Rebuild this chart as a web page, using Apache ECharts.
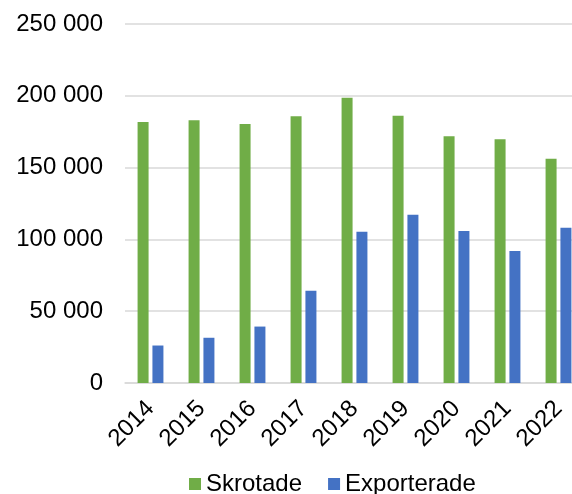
<!DOCTYPE html>
<html>
<head>
<meta charset="utf-8">
<script src="https://cdn.jsdelivr.net/npm/echarts@6/dist/echarts.min.js"></script>
<style>
	html, body { margin: 0; padding: 0; background: #fff; }
	#chart { width: 572px; height: 494px; }
</style>
</head>
<body>
<div id="chart"></div>
<script>
	// data
	var years = ['2014', '2015', '2016', '2017', '2018', '2019', '2020', '2021', '2022'];
	var skrotade = [181700, 183000, 180300, 185800, 198600, 186100, 171900, 169700, 156200];
	var exporterade = [26100, 31500, 39300, 64300, 105300, 117100, 105800, 91900, 108100];
	var yTicks = { min: 0, max: 250000, interval: 50000 };

	function fmt(v) {
		return String(v).replace(/\B(?=(\d{3})+(?!\d))/g, ' ');
	}

	var myChart = echarts.init(document.getElementById('chart'));
	var font = 'Liberation Sans, Arial, sans-serif';
	myChart.setOption({
		animation: false,
		textStyle: { fontFamily: font },
		// plot runs past the right edge like in the source picture
		grid: { left: 125, width: 459, top: 24, height: 359, outerBoundsMode: 'none', containLabel: false },
		legend: {
			left: 184,
			top: 467,
			itemWidth: 12,
			itemHeight: 12,
			itemGap: 26,
			icon: 'rect',
			textStyle: { fontSize: 24, color: '#000', fontFamily: font },
			data: ['Skrotade', 'Exporterade']
		},
		xAxis: {
			type: 'category',
			data: years,
			axisLine: { lineStyle: { color: '#d9d9d9', width: 1.5 } },
			axisTick: { show: false },
			axisLabel: { rotate: 45, fontSize: 24, color: '#000', margin: 22, fontFamily: font }
		},
		yAxis: {
			type: 'value',
			min: yTicks.min,
			max: yTicks.max,
			interval: yTicks.interval,
			axisLine: { show: false },
			axisTick: { show: false },
			splitLine: { lineStyle: { color: '#d9d9d9', width: 1.5 } },
			axisLabel: { fontSize: 24, color: '#000', margin: 22, formatter: fmt, fontFamily: font }
		},
		series: [{
			name: 'Skrotade',
			type: 'bar',
			data: skrotade,
			barWidth: 11,
			barGap: '35%',
			itemStyle: { color: '#70ad47' }
		}, {
			name: 'Exporterade',
			type: 'bar',
			data: exporterade,
			barWidth: 11,
			itemStyle: { color: '#4472c4' }
		}]
	});
</script>
</body>
</html>
